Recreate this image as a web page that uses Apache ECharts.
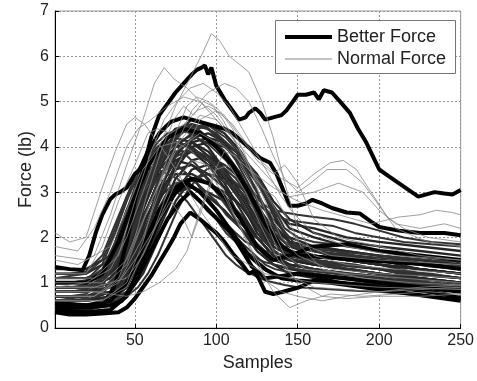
<!DOCTYPE html>
<html><head><meta charset="utf-8">
<script src="https://cdn.jsdelivr.net/npm/echarts@6/dist/echarts.min.js"></script>
<style>html,body{margin:0;padding:0;background:#fff}#c{width:477px;height:381px}</style>
</head><body><div id="c"></div>
<script>
// ---------- axis ticks ----------
const xTicks = [50, 100, 150, 200, 250];
const yTicks = [0, 1, 2, 3, 4, 5, 6, 7];

// ---------- "Better Force" (thick) curves: [sample, force] ----------
const betterA = [[1,0.5],[15,0.5],[30,0.5],[36,0.8],[40,1.2],[45,1.9],[50,2.8],[55,3.5],[60,4.2],[65,4.7],[70,4.95],[75,5.2],[80,5.4],[85,5.6],[88,5.7],[91,5.75],[93,5.8],[95,5.6],[97,5.75],[100,5.35],[105,5.05],[110,4.8],[114,4.6],[118,4.65],[120,4.75],[124,4.85],[127,4.75],[130,4.6],[135,4.65],[140,4.7],[143,4.8],[146,4.95],[150,5.15],[155,5.15],[160,5.2],[163,5.05],[166,5.25],[171,5.2],[176,5.0],[182,4.75],[187,4.4],[192,4.1],[196,3.8],[200,3.5],[206,3.35],[212,3.2],[218,3.05],[224,2.9],[229,2.95],[234,3.0],[240,2.97],[245,2.95],[250,3.05]];
const betterB = [[1,0.35],[10,0.3],[20,0.3],[30,0.32],[40,0.35],[45,0.45],[50,0.65],[55,0.9],[60,1.15],[65,1.45],[70,1.75],[74,2.0],[78,2.3],[84,2.55],[90,2.4],[95,2.25],[100,2.1],[105,1.9],[110,1.65],[116,1.4],[120,1.2],[123,1.25],[126,1.1],[130,0.8],[135,0.75],[141,0.8],[151,0.9],[157,1.0],[163,1.1],[175,1.0],[190,0.95],[200,0.9],[220,0.85],[240,0.75],[250,0.65]];
const betterC = [[1,1.35],[10,1.3],[18,1.28],[22,1.6],[26,2.1],[30,2.5],[35,2.85],[38,2.95],[41,3.0],[45,3.1],[50,3.4],[53,3.5],[58,3.9],[65,4.3],[72,4.55],[80,4.65],[85,4.6],[95,4.5],[105,4.4],[110,4.3],[118,4.05],[127,3.75],[133,3.65],[137,3.4],[141,3.05],[145,2.7],[150,2.7],[155,2.75],[159,2.83],[165,2.75],[171,2.65],[180,2.55],[188,2.53],[195,2.35],[200,2.23],[212,2.15],[225,2.1],[240,2.1],[250,2.05]];
const betterD = [[1,0.45],[20,0.45],[35,0.5],[42,0.6],[50,1.0],[60,1.7],[70,2.4],[78,2.8],[84,3.0],[90,2.8],[98,2.5],[105,2.25],[110,2.05],[116,1.7],[122,1.35],[130,1.1],[140,1.15],[150,1.2],[165,1.15],[180,1.1],[200,1.0],[225,0.9],[250,0.8]];
const betterE = [[1,0.55],[20,0.5],[35,0.6],[45,1.0],[55,1.8],[65,2.6],[75,3.1],[85,3.3],[95,3.2],[105,2.9],[115,2.4],[125,1.8],[135,1.5],[145,1.6],[160,1.8],[180,1.85],[200,1.7],[225,1.6],[250,1.5]];
const betterF = [[1,0.4],[20,0.35],[35,0.4],[45,0.7],[55,1.5],[65,2.4],[75,3.0],[82,3.2],[90,3.0],[100,2.6],[110,2.1],[120,1.6],[130,1.3],[140,1.1],[150,1.05],[170,1.0],[190,0.9],[210,0.8],[230,0.7],[250,0.6]];
const betterG = [[1,1.0],[20,1.0],[30,1.2],[40,1.9],[50,2.9],[60,3.7],[70,4.2],[80,4.4],[90,4.3],[100,4.0],[110,3.6],[120,3.0],[130,2.3],[140,1.8],[150,1.6],[170,1.55],[190,1.5],[210,1.45],[230,1.4],[250,1.3]];

// ---------- dense bundle of curves (shared sample grid) ----------
const bundleSamples = [1,20,35,45,55,65,75,85,95,105,115,125,135,145,160,180,200,225,250];
const bundle01 = [0.6,0.6,0.8,1.6,2.8,3.7,4.3,4.6,4.5,4.3,3.9,3.3,2.5,1.9,1.7,1.6,1.5,1.4,1.3];
const bundle02 = [0.9,0.9,1.2,2.1,3.1,3.9,4.4,4.5,4.2,3.8,3.2,2.5,1.9,1.6,1.5,1.4,1.3,1.2,1.1];
const bundle03 = [0.5,0.5,0.6,1.0,2.0,3.0,3.8,4.2,4.3,4.1,3.8,3.3,2.7,2.2,2.0,1.8,1.7,1.6,1.5];
const bundle04 = [1.0,1.0,1.4,2.3,3.2,3.8,4.1,4.0,3.7,3.2,2.6,2.0,1.6,1.4,1.3,1.2,1.1,1.0,0.9];
const bundle05 = [0.7,0.7,0.8,1.3,2.2,3.1,3.7,3.9,3.8,3.5,3.0,2.4,1.9,1.7,1.6,1.5,1.4,1.3,1.2];
const bundle06 = [0.8,0.8,1.0,1.8,2.7,3.4,3.7,3.6,3.3,2.8,2.2,1.7,1.4,1.3,1.2,1.1,1.0,0.95,0.9];
const bundle07 = [0.5,0.5,0.6,0.9,1.6,2.5,3.3,3.7,3.8,3.6,3.3,2.9,2.4,2.0,1.8,1.7,1.6,1.5,1.4];
const bundle08 = [1.2,1.2,1.5,2.4,3.3,4.0,4.4,4.3,4.0,3.5,2.8,2.1,1.7,1.5,1.4,1.3,1.2,1.1,1.0];
const bundle09 = [0.6,0.6,0.7,1.1,1.9,2.8,3.5,4.0,4.1,4.0,3.7,3.2,2.6,2.3,2.2,2.0,1.9,1.8,1.7];
const bundle10 = [0.9,0.9,1.1,1.7,2.5,3.1,3.4,3.4,3.2,2.9,2.5,2.0,1.6,1.5,1.4,1.3,1.2,1.1,1.0];
const bundle11 = [0.7,0.7,0.9,1.5,2.4,3.3,4.0,4.3,4.2,3.9,3.4,2.7,2.1,1.8,1.7,1.5,1.4,1.2,1.1];
const bundle12 = [0.4,0.4,0.5,0.7,1.2,2.0,2.8,3.3,3.4,3.3,3.0,2.6,2.1,1.8,1.6,1.5,1.4,1.3,1.2];
const bundle13 = [1.1,1.1,1.3,2.0,2.9,3.5,3.9,3.9,3.6,3.1,2.4,1.8,1.4,1.2,1.1,1.0,0.95,0.9,0.85];
const bundle14 = [0.6,0.6,0.7,1.2,2.1,2.9,3.2,3.1,2.9,2.6,2.2,1.8,1.5,1.4,1.3,1.2,1.1,1.0,0.9];
const bundle15 = [0.8,0.8,1.0,1.6,2.6,3.5,4.2,4.5,4.4,4.1,3.6,3.0,2.3,1.9,1.8,1.7,1.6,1.5,1.4];
const bundle16 = [0.5,0.5,0.6,0.8,1.4,2.2,3.0,3.5,3.6,3.4,3.1,2.7,2.2,1.9,1.7,1.6,1.5,1.3,1.2];
const bundle17 = [1.3,1.3,1.6,2.6,3.4,3.9,4.2,4.1,3.8,3.4,2.9,2.3,1.8,1.6,1.5,1.4,1.3,1.2,1.1];
const bundle18 = [0.6,0.6,0.8,1.4,2.3,3.0,3.5,3.6,3.4,3.1,2.7,2.2,1.8,1.6,1.5,1.4,1.3,1.1,1.0];
const bundle19 = [0.7,0.7,0.8,1.2,2.0,2.9,3.6,4.1,4.2,4.1,3.8,3.4,2.8,2.4,2.1,1.9,1.8,1.7,1.6];
const bundle20 = [0.9,0.9,1.1,1.9,2.8,3.6,4.0,4.1,3.9,3.5,3.0,2.4,1.9,1.6,1.5,1.3,1.2,1.0,0.9];
const bundle21 = [0.5,0.5,0.6,0.9,1.7,2.6,3.0,3.1,3.0,2.8,2.4,2.0,1.6,1.4,1.3,1.2,1.1,0.9,0.8];
const bundle22 = [1.0,1.0,1.2,2.0,3.0,3.8,4.3,4.4,4.2,3.8,3.3,2.6,2.0,1.7,1.6,1.5,1.4,1.3,1.2];
const bundle23 = [0.6,0.6,0.7,1.1,1.8,2.6,3.1,3.3,3.2,3.0,2.7,2.3,1.9,1.7,1.6,1.5,1.4,1.3,1.2];
const bundle24 = [0.8,0.8,0.9,1.4,2.4,3.3,3.8,3.9,3.7,3.3,2.8,2.2,1.7,1.5,1.4,1.3,1.2,1.1,1.0];

// ---------- second bundle on a finer sample grid ----------
const wobbleSamples = [1,10,20,30,38,45,52,58,64,70,76,82,88,94,100,106,112,118,124,130,136,142,150,160,172,185,200,215,232,250];
const wobble01 = [1.1,1.15,1.2,1.5,2.2,2.9,3.5,3.8,4.1,4.3,4.35,4.5,4.4,4.45,4.2,4.0,3.7,3.3,2.9,2.4,2.1,1.9,1.8,1.75,1.7,1.6,1.5,1.45,1.35,1.3];
const wobble02 = [0.7,0.65,0.7,0.8,1.2,1.8,2.5,3.0,3.3,3.6,3.8,3.9,3.85,3.7,3.6,3.3,3.0,2.6,2.3,1.9,1.7,1.55,1.5,1.45,1.4,1.35,1.3,1.2,1.15,1.1];
const wobble03 = [0.5,0.5,0.45,0.5,0.6,0.8,1.2,1.7,2.2,2.7,3.0,3.2,3.3,3.4,3.35,3.2,3.1,2.9,2.6,2.3,2.0,1.8,1.6,1.5,1.45,1.4,1.3,1.25,1.2,1.1];
const wobble04 = [0.9,0.9,0.95,1.2,1.8,2.6,3.3,3.7,3.9,4.0,4.1,4.0,3.9,3.8,3.6,3.4,3.2,3.0,2.8,2.6,2.5,2.4,2.35,2.3,2.25,2.1,2.0,1.9,1.85,1.8];
const wobble05 = [0.6,0.6,0.65,0.9,1.5,2.3,3.0,3.4,3.6,3.5,3.6,3.4,3.2,2.9,2.6,2.3,2.0,1.8,1.6,1.4,1.3,1.25,1.2,1.15,1.1,1.05,1.0,0.95,0.9,0.85];
const wobble06 = [0.8,0.8,0.85,1.0,1.4,2.0,2.7,3.2,3.6,3.9,4.1,4.2,4.3,4.2,4.1,4.0,3.8,3.6,3.3,2.9,2.5,2.1,1.8,1.7,1.6,1.55,1.5,1.45,1.4,1.35];
const wobble07 = [1.0,1.0,1.05,1.3,1.9,2.6,3.1,3.4,3.5,3.4,3.3,3.1,2.9,2.6,2.4,2.1,1.9,1.7,1.55,1.45,1.4,1.35,1.3,1.25,1.2,1.15,1.1,1.05,1.0,0.95];
const wobble08 = [0.55,0.55,0.5,0.55,0.6,0.7,0.9,1.2,1.6,2.1,2.6,3.0,3.3,3.5,3.6,3.5,3.3,3.0,2.7,2.3,1.9,1.6,1.4,1.3,1.25,1.2,1.15,1.1,1.05,1.0];
const wobble09 = [0.7,0.7,0.75,1.0,1.6,2.4,3.2,3.7,4.0,4.2,4.3,4.35,4.3,4.2,4.0,3.8,3.5,3.2,2.9,2.7,2.6,2.55,2.5,2.45,2.4,2.3,2.15,2.0,1.9,1.85];
const wobble10 = [1.2,1.2,1.25,1.6,2.3,2.9,3.3,3.5,3.6,3.65,3.6,3.4,3.2,2.9,2.6,2.3,2.1,1.9,1.8,1.7,1.65,1.6,1.55,1.5,1.4,1.35,1.3,1.2,1.15,1.1];
const wobble11 = [0.45,0.45,0.5,0.6,0.9,1.4,2.1,2.7,3.2,3.6,3.9,4.1,4.2,4.1,3.9,3.7,3.4,3.0,2.6,2.2,1.9,1.7,1.55,1.45,1.35,1.3,1.2,1.1,1.0,0.95];
const wobble12 = [0.8,0.8,0.85,1.1,1.7,2.4,2.9,3.2,3.3,3.2,3.0,2.8,2.5,2.2,1.9,1.6,1.4,1.25,1.15,1.05,1.0,0.95,0.9,0.88,0.85,0.82,0.8,0.75,0.72,0.7];
const wobble13 = [0.6,0.6,0.62,0.75,1.1,1.7,2.4,3.0,3.5,3.9,4.2,4.4,4.45,4.4,4.3,4.1,3.9,3.5,3.1,2.6,2.2,1.9,1.75,1.7,1.65,1.6,1.55,1.5,1.4,1.35];
const wobble14 = [1.0,1.0,1.05,1.4,2.1,2.8,3.4,3.8,4.0,4.1,4.0,3.8,3.6,3.3,3.0,2.7,2.4,2.2,2.0,1.9,1.85,1.8,1.8,1.75,1.7,1.65,1.6,1.55,1.5,1.45];
const wobble15 = [0.5,0.5,0.5,0.6,0.8,1.1,1.6,2.1,2.6,3.0,3.2,3.3,3.2,3.0,2.8,2.5,2.3,2.1,1.9,1.7,1.5,1.4,1.3,1.2,1.15,1.1,1.05,1.0,0.95,0.9];
const wobble16 = [0.9,0.9,0.9,1.1,1.5,2.1,2.8,3.3,3.7,4.0,4.25,4.4,4.45,4.5,4.35,4.2,3.95,3.7,3.4,3.0,2.6,2.2,2.0,1.9,1.85,1.8,1.7,1.6,1.55,1.5];

// ---------- "Normal Force" (thin) curves: [sample, force] ----------
const normal01 = [[1,0.9],[20,1.0],[35,1.3],[45,2.0],[55,3.0],[65,4.0],[75,4.9],[85,5.6],[92,6.1],[97,6.5],[102,6.35],[108,6.0],[115,5.8],[120,5.65],[128,5.0],[135,4.2],[142,3.2],[150,2.2],[160,1.6],[180,1.4],[210,1.3],[250,1.2]];
const normal02 = [[1,1.5],[15,1.4],[25,1.6],[35,2.5],[45,3.6],[55,4.6],[62,5.4],[68,5.75],[74,5.5],[82,5.3],[90,5.0],[100,4.6],[110,4.2],[120,3.6],[130,2.8],[140,2.0],[150,1.6],[170,1.3],[200,1.2],[250,1.1]];
const normal03 = [[1,2.1],[10,1.9],[20,2.0],[30,3.1],[38,3.9],[45,4.5],[50,4.65],[56,4.5],[62,4.2],[70,3.8],[80,3.2],[90,2.6],[100,2.1],[110,1.6],[130,1.2],[160,1.0],[200,0.9],[250,0.85]];
const normal04 = [[1,1.8],[15,1.7],[25,2.2],[35,3.0],[45,4.0],[52,4.4],[60,4.6],[70,4.9],[80,5.1],[90,5.0],[100,4.7],[110,4.2],[120,3.6],[130,3.0],[140,2.4],[150,1.9],[170,1.6],[200,1.5],[250,1.4]];
const normal05 = [[1,0.7],[25,0.7],[40,1.0],[55,2.0],[65,3.0],[75,4.0],[85,4.8],[95,5.2],[105,5.4],[112,5.3],[120,5.0],[128,4.4],[135,3.8],[142,3.3],[150,3.0],[158,3.2],[168,3.5],[180,3.5],[190,3.2],[200,2.7],[210,2.2],[230,1.9],[250,1.8]];
const normal06 = [[1,0.6],[30,0.6],[45,0.9],[60,2.0],[75,3.5],[90,4.6],[100,4.8],[110,4.5],[120,4.0],[130,3.6],[140,3.3],[150,3.1],[160,3.4],[170,3.65],[178,3.7],[186,3.5],[195,3.0],[205,2.45],[215,2.2],[230,2.0],[250,1.9]];
const normal07 = [[1,1.0],[30,1.0],[45,1.5],[60,2.8],[75,4.0],[90,4.7],[100,4.6],[110,4.2],[120,3.8],[130,3.4],[140,3.0],[150,2.8],[165,2.6],[180,2.45],[195,2.3],[212,2.45],[225,2.5],[235,2.6],[245,2.55],[250,2.5]];
const normal08 = [[1,0.9],[25,0.9],[45,1.1],[55,1.6],[65,2.4],[75,3.2],[85,3.7],[95,3.6],[105,3.0],[115,2.2],[125,1.4],[135,0.8],[145,0.45],[155,0.6],[170,0.75],[190,0.7],[210,0.75],[230,0.8],[250,0.75]];
const normal09 = [[1,0.8],[25,0.8],[45,0.7],[55,0.8],[65,1.0],[75,1.3],[82,1.7],[90,2.6],[98,3.4],[105,3.9],[112,3.8],[120,3.3],[130,2.4],[140,1.5],[150,1.0],[165,0.7],[180,0.65],[200,0.7],[225,0.7],[250,0.75]];
const normal10 = [[1,1.6],[20,1.5],[35,1.8],[45,2.6],[55,3.5],[65,4.0],[75,4.1],[85,3.9],[95,3.5],[105,2.9],[115,2.2],[125,1.5],[132,1.0],[140,0.8],[150,0.7],[165,0.6],[180,0.7],[200,0.8],[225,0.85],[250,0.9]];
const normal11 = [[1,1.2],[20,1.2],[30,1.8],[40,2.8],[50,3.6],[58,4.3],[64,4.4],[72,4.3],[80,4.5],[88,4.8],[95,4.9],[105,4.7],[115,4.2],[125,3.7],[135,3.4],[142,3.6],[150,3.2],[160,2.4],[175,2.0],[200,1.8],[225,1.6],[250,1.5]];
const normal12 = [[1,0.8],[30,0.8],[42,1.1],[52,1.6],[62,2.2],[72,2.8],[80,2.4],[85,2.0],[92,2.7],[100,3.5],[108,3.6],[118,3.0],[128,2.2],[138,1.5],[148,1.1],[160,0.9],[180,0.85],[200,0.8],[225,0.9],[250,0.95]];
const normal13 = [[1,0.6],[30,0.6],[45,1.0],[55,1.9],[65,3.2],[75,4.3],[82,4.9],[88,5.1],[95,5.0],[102,4.8],[110,4.4],[118,3.8],[126,3.0],[134,2.2],[142,1.6],[155,1.3],[180,1.2],[215,1.1],[250,1.0]];
const normal14 = [[1,1.1],[25,1.1],[40,1.6],[50,2.8],[60,3.9],[68,4.6],[76,5.0],[84,5.3],[92,5.4],[100,5.2],[108,4.9],[116,4.4],[124,3.9],[132,3.4],[140,2.9],[148,2.5],[160,2.1],[180,1.8],[210,1.6],[250,1.5]];
const normal15 = [[1,0.7],[25,0.7],[40,1.1],[50,2.0],[58,3.0],[66,3.9],[74,4.6],[80,4.9],[86,4.7],[92,5.0],[98,4.9],[104,4.6],[112,4.1],[120,3.5],[128,3.1],[136,2.9],[144,2.4],[152,1.8],[165,1.3],[190,1.1],[220,1.0],[250,0.95]];
const normal16 = [[1,0.9],[30,0.9],[45,1.4],[60,2.8],[75,3.9],[90,4.3],[105,4.0],[120,3.5],[135,3.1],[145,2.9],[160,3.0],[175,3.2],[190,3.0],[200,2.6],[210,2.3],[225,2.2],[240,2.3],[250,2.2]];

const betterCurves = [betterA, betterB, betterC, betterD, betterE, betterF, betterG];
const bundleCurves = [bundle01,bundle02,bundle03,bundle04,bundle05,bundle06,bundle07,bundle08,bundle09,bundle10,bundle11,bundle12,bundle13,bundle14,bundle15,bundle16,bundle17,bundle18,bundle19,bundle20,bundle21,bundle22,bundle23,bundle24];
const wobbleCurves = [wobble01,wobble02,wobble03,wobble04,wobble05,wobble06,wobble07,wobble08,wobble09,wobble10,wobble11,wobble12,wobble13,wobble14,wobble15,wobble16];
const normalCurves = [normal01,normal02,normal03,normal04,normal05,normal06,normal07,normal08,normal09,normal10,normal11,normal12,normal13,normal14,normal15,normal16];

const FONT = 'Liberation Sans, Arial, sans-serif';
const series = [];
betterCurves.forEach((d) => series.push({
  name: 'Better Force', type: 'line', data: d, symbol: 'none', z: 4,
  color: '#000', lineStyle: { color: '#000', width: 4 }, silent: true
}));
bundleCurves.forEach((v, i) => series.push({
  name: 'bundle' + i, type: 'line', data: bundleSamples.map((s, k) => [s, v[k]]), symbol: 'none', z: 3,
  color: '#262626', lineStyle: { color: '#262626', width: 2.3 }, silent: true
}));
wobbleCurves.forEach((v, i) => series.push({
  name: 'wobble' + i, type: 'line', data: wobbleSamples.map((s, k) => [s, v[k]]), symbol: 'none', z: 3,
  color: '#333', lineStyle: { color: '#333', width: 2 }, silent: true
}));
normalCurves.forEach((d) => series.push({
  name: 'Normal Force', type: 'line', data: d, symbol: 'none', z: 5,
  color: '#888', lineStyle: { color: '#888', width: 0.8 }, silent: true
}));

const chart = echarts.init(document.getElementById('c'), null, { renderer: 'canvas' });
chart.setOption({
  animation: false,
  backgroundColor: '#fff',
  grid: { left: 55, right: 15, top: 11, bottom: 53, show: true, borderColor: '#999', borderWidth: 1 },
  xAxis: {
    type: 'value', min: 1, max: 250,
    name: 'Samples', nameLocation: 'middle', nameGap: 26, nameMoveOverlap: false,
    nameTextStyle: { fontFamily: FONT, fontSize: 18, color: '#222' },
    axisLine: { show: true, onZero: false, lineStyle: { color: '#000', width: 1 } },
    axisTick: { show: true, inside: true, length: 4, lineStyle: { color: '#000' }, customValues: xTicks },
    axisLabel: { fontFamily: FONT, fontSize: 16, color: '#222', margin: 5, customValues: xTicks },
    splitLine: { show: true, lineStyle: { color: '#999', type: [2, 2], width: 1 } }
  },
  yAxis: {
    type: 'value', min: 0, max: 7, interval: 1,
    name: 'Force (lb)', nameLocation: 'middle', nameGap: 20, nameMoveOverlap: false,
    nameTextStyle: { fontFamily: FONT, fontSize: 18, color: '#222' },
    axisLine: { show: true, onZero: false, lineStyle: { color: '#000', width: 1 } },
    axisTick: { show: true, inside: true, length: 4, lineStyle: { color: '#000' } },
    axisLabel: { fontFamily: FONT, fontSize: 16, color: '#222', margin: 6,
      formatter: v => (yTicks.indexOf(v) >= 0 ? String(v) : '') },
    splitLine: { show: true, lineStyle: { color: '#999', type: [2, 2], width: 1 } }
  },
  legend: [
    { data: ['Better Force'], left: 285, top: 28, z: 20, icon: 'rect', itemWidth: 47, itemHeight: 4, itemGap: 0,
      textStyle: { fontFamily: FONT, fontSize: 18, color: '#222', padding: [0, 0, 0, 0] }, selectedMode: false, padding: 0 },
    { data: ['Normal Force'], left: 285, top: 50, z: 20, icon: 'rect', itemWidth: 47, itemHeight: 1, itemGap: 0,
      textStyle: { fontFamily: FONT, fontSize: 18, color: '#222', padding: [0, 0, 0, 0] }, selectedMode: false, padding: 0 }
  ],
  graphic: [{
    type: 'rect', left: 275, top: 20, z: 10,
    shape: { width: 180, height: 53 },
    style: { fill: '#fff', stroke: '#777', lineWidth: 1 }
  }],
  series: series
});
</script></body></html>
